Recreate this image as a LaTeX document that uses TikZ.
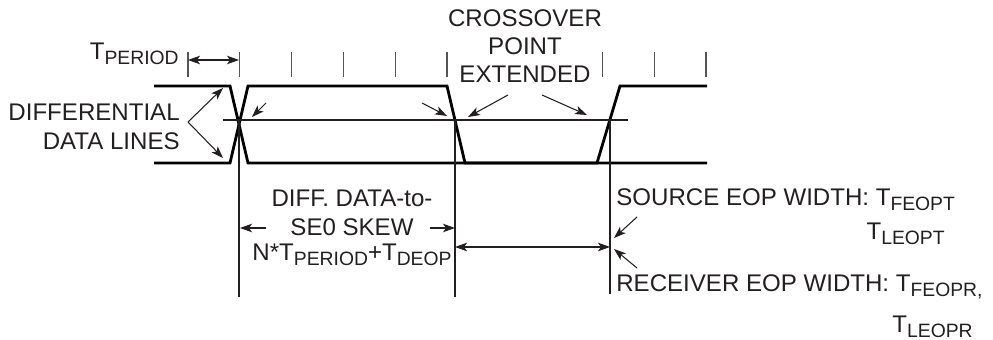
\documentclass[tikz,border=0pt]{standalone}
\usepackage{fontspec}
\setmainfont{Liberation Sans}
\usetikzlibrary{arrows.meta}
\definecolor{inkgray}{RGB}{35,31,32}
\definecolor{tickgray}{RGB}{85,85,85}
\newcommand{\tsub}[2]{#1\raisebox{-2.8pt}{\fontsize{11}{12}\selectfont #2}}

\begin{document}
\begin{tikzpicture}[x=0.02cm, y=-0.02cm,
    txt/.style={inner sep=0pt, text=inkgray, font=\fontsize{13.7}{15}\selectfont},
    signal/.style={line width=1.6pt, draw=black},
    guide/.style={line width=0.6pt, draw=inkgray},
    tickmark/.style={line width=0.75pt, draw=tickgray},
    arrow/.style={-{Stealth[length=0.24cm, width=0.17cm, inset=0.06cm]}, line width=0.6pt, draw=inkgray},
    dimarrow/.style={{Stealth[length=0.24cm, width=0.17cm, inset=0.06cm]}-{Stealth[length=0.24cm, width=0.17cm, inset=0.06cm]}, line width=0.6pt, draw=inkgray}
]
\useasboundingbox (0,0) rectangle (993,340);

% Period ticks
\foreach \k in {0,...,5,8,9,10}
  \draw[tickmark] (188+51.8*\k,52) -- (188+51.8*\k,77);

% Differential data lines
\draw[signal] (154,86) -- (230,86) -- (248,163) -- (707,163);
\draw[signal] (154,163) -- (230,163) -- (248,86) -- (447,86) -- (465,163) -- (597,163) -- (620,86) -- (707,86);

% Crossover points
\coordinate (xa) at (239,120);
\coordinate (xb) at (455,120);
\coordinate (xc) at (610,120);
\coordinate (xa bot) at (239,297);
\coordinate (xb bot) at (455,297);
\coordinate (xc bot) at (610,294);
\coordinate (mid l) at (223,120);
\coordinate (mid r) at (628,120);

\draw[guide] (mid l) -- (mid r);
\draw[guide] (xa) -- (xa bot);
\draw[guide] (xb) -- (xb bot);
\draw[guide] (xc) -- (xc bot);

% Labels
\node[txt, anchor=base east] (tperiod) at (179,60) {\tsub{T}{PERIOD}};
\node[txt, anchor=base east] (diff1) at (180,121) {DIFFERENTIAL};
\node[txt, anchor=base east] (diff2) at (180,150) {DATA LINES};
\node[txt, anchor=base] (cross1) at (525,27) {CROSSOVER};
\node[txt, anchor=base] (cross2) at (525,55) {POINT};
\node[txt, anchor=base] (cross3) at (525,83) {EXTENDED};
\node[txt, anchor=base] (skew1) at (352,207) {DIFF. DATA-to-};
\node[txt, anchor=base] (skew2) at (352,236) {SE0 SKEW};
\node[txt, anchor=base] (skew3) at (352,261) {N*\tsub{T}{PERIOD}+\tsub{T}{DEOP}};
\node[txt, anchor=base west] (src1) at (616,206) {SOURCE EOP WIDTH: \tsub{T}{FEOPT}};
\node[txt, anchor=base east] (src2) at (945,240) {\tsub{T}{LEOPT}};
\node[txt, anchor=base west] (rcv1) at (616,292) {RECEIVER EOP WIDTH: \tsub{T}{FEOPR,}};
\node[txt, anchor=base east] (rcv2) at (973,333) {\tsub{T}{LEOPR}};

% Arrow ends
\coordinate (per l) at (188,60);
\coordinate (per r) at (239,60);
\coordinate (dl apex) at (188,122);
\coordinate (dl top) at (223,88);
\coordinate (dl bot) at (223,158);
\coordinate (xa tail) at (266,103);
\coordinate (xa tip) at (252,117);
\coordinate (xb tail) at (422,103);
\coordinate (xb tip) at (447,116);
\coordinate (ext l tail) at (508,95);
\coordinate (ext l tip) at (468,117);
\coordinate (ext r tail) at (542,95);
\coordinate (ext r tip) at (587,115);
\coordinate (skew l tail) at (266,228);
\coordinate (skew l tip) at (240,228);
\coordinate (skew r tail) at (430,228);
\coordinate (skew r tip) at (455,228);
\coordinate (eop l) at (455,247);
\coordinate (eop r) at (610,247);
\coordinate (src tail) at (637,217);
\coordinate (src tip) at (614,238);
\coordinate (rcv tail) at (637,268);
\coordinate (rcv tip) at (614,249);

% Arrows
\draw[dimarrow] (per l) -- (per r);
\draw[arrow] (dl apex) -- (dl top);
\draw[arrow] (dl apex) -- (dl bot);
\draw[arrow] (xa tail) -- (xa tip);
\draw[arrow] (xb tail) -- (xb tip);
\draw[arrow] (ext l tail) -- (ext l tip);
\draw[arrow] (ext r tail) -- (ext r tip);
\draw[arrow] (skew l tail) -- (skew l tip);
\draw[arrow] (skew r tail) -- (skew r tip);
\draw[dimarrow] (eop l) -- (eop r);
\draw[arrow] (src tail) -- (src tip);
\draw[arrow] (rcv tail) -- (rcv tip);

\end{tikzpicture}
\end{document}
